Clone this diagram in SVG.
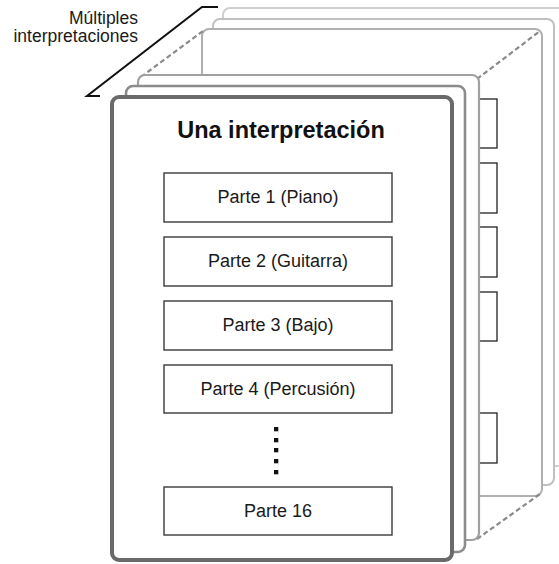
<svg xmlns="http://www.w3.org/2000/svg" width="559" height="564" viewBox="0 0 559 564">
  <style>
    .card { fill: #ffffff; }
    .part { fill: #ffffff; stroke: #3a3a3a; stroke-width: 1.4; }
    .tab { fill: #ffffff; stroke: #222222; stroke-width: 1.3; }
    .lbl { font-family: "Liberation Sans", Arial, sans-serif; font-size: 18px; fill: #1a1a1a; text-anchor: middle; }
    .dash { stroke: #8a8a8a; stroke-width: 2.2; stroke-dasharray: 5 3; fill: none; }
  </style>
  <rect width="559" height="564" fill="#ffffff"/>

  <g id="back-card-3"><rect class="card" x="223" y="8" width="343" height="458" rx="7" stroke="#cfcfcf" stroke-width="2"/></g>
  <g id="back-card-2"><rect class="card" x="213" y="19" width="341" height="466" rx="7" stroke="#c0c0c0" stroke-width="2"/></g>
  <g id="back-card-1"><rect class="card" x="202" y="29" width="340" height="467" rx="7" stroke="#b0b0b0" stroke-width="2"/></g>

  <g id="tabs">
    <rect class="tab" x="476" y="99" width="21" height="49"/>
    <rect class="tab" x="476" y="163" width="21" height="50"/>
    <rect class="tab" x="476" y="227" width="21" height="50"/>
    <rect class="tab" x="476" y="292" width="21" height="49"/>
    <rect class="tab" x="476" y="413" width="21" height="50"/>
  </g>

  <g id="connectors">
    <line class="dash" x1="141" y1="77" x2="203" y2="31"/>
    <line class="dash" x1="477" y1="79" x2="540" y2="31"/>
    <line class="dash" x1="477" y1="539" x2="540" y2="494"/>
    <polyline points="218,7 202,7 87,96 100,96" fill="none" stroke="#111111" stroke-width="2"/>
  </g>

  <g id="card-3"><rect class="card" x="138" y="75" width="341" height="465" rx="7" stroke="#a0a0a0" stroke-width="2.2"/></g>
  <g id="card-2"><rect class="card" x="126" y="86" width="339" height="466" rx="7" stroke="#8c8c8c" stroke-width="2.6"/></g>
  <g id="front-card">
    <rect class="card" x="112" y="97" width="340" height="463" rx="7" stroke="#6a6a6a" stroke-width="4"/>
    <text x="281" y="138" font-family="Liberation Sans, Arial, sans-serif" font-size="23.5" font-weight="bold" fill="#111111" text-anchor="middle">Una interpretación</text>
  </g>

  <g id="parte-1"><rect class="part" x="164" y="173" width="228" height="49"/><text class="lbl" x="278" y="203">Parte 1 (Piano)</text></g>
  <g id="parte-2"><rect class="part" x="164" y="237" width="228" height="49"/><text class="lbl" x="278" y="267">Parte 2 (Guitarra)</text></g>
  <g id="parte-3"><rect class="part" x="164" y="301" width="228" height="49"/><text class="lbl" x="278" y="331">Parte 3 (Bajo)</text></g>
  <g id="parte-4"><rect class="part" x="164" y="365" width="228" height="48"/><text class="lbl" x="278" y="395">Parte 4 (Percusión)</text></g>
  <g id="ellipsis" fill="#111111">
    <rect x="274" y="427" width="4.3" height="4.3"/>
    <rect x="274" y="438" width="4.3" height="4.3"/>
    <rect x="274" y="448" width="4.3" height="4.3"/>
    <rect x="274" y="459" width="4.3" height="4.3"/>
    <rect x="274" y="470" width="4.3" height="4.3"/>
  </g>
  <g id="parte-16"><rect class="part" x="164" y="487" width="228" height="48"/><text class="lbl" x="278" y="517">Parte 16</text></g>

  <g id="label-multiples">
    <text x="138" y="24" font-family="Liberation Sans, Arial, sans-serif" font-size="17.5" fill="#1a1a1a" text-anchor="end">Múltiples</text>
    <text x="138" y="42" font-family="Liberation Sans, Arial, sans-serif" font-size="17.5" fill="#1a1a1a" text-anchor="end">interpretaciones</text>
  </g>
</svg>
